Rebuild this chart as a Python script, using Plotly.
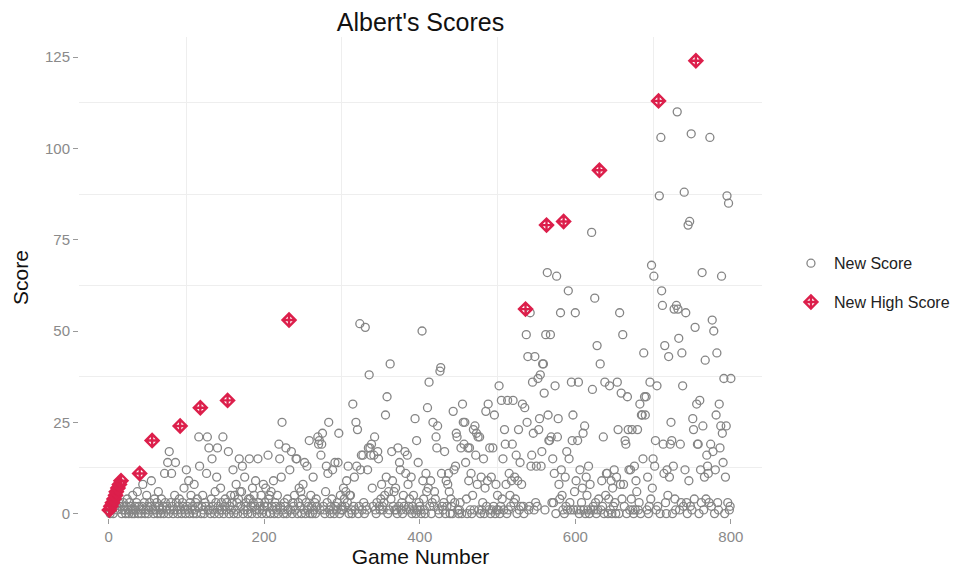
import plotly.graph_objects as go

# Score of each game, games 1..800
scores = [
    1, 0, 2, 1, 3, 0, 4, 2, 5, 6,
    1, 7, 3, 8, 2, 9, 0, 1, 3, 2,
    1, 0, 2, 4, 1, 0, 3, 1, 2, 0,
    5, 1, 0, 2, 1, 3, 6, 0, 2, 11,
    1, 0, 2, 8, 1, 3, 0, 1, 5, 2,
    0, 1, 3, 2, 9, 20, 1, 0, 4, 2,
    1, 3, 0, 6, 2, 1, 0, 4, 1, 2,
    0, 11, 3, 1, 2, 14, 0, 17, 1, 3,
    11, 2, 0, 1, 5, 14, 3, 1, 0, 2,
    4, 24, 1, 0, 3, 2, 7, 1, 0, 12,
    2, 1, 9, 0, 3, 5, 1, 2, 0, 8,
    1, 3, 0, 4, 2, 21, 13, 29, 0, 2,
    5, 1, 0, 3, 2, 11, 21, 1, 18, 1,
    0, 4, 15, 2, 1, 0, 6, 3, 10, 18,
    2, 0, 1, 7, 3, 1, 21, 0, 2, 4,
    1, 3, 31, 17, 0, 2, 5, 1, 3, 12,
    0, 5, 1, 8, 3, 0, 4, 15, 6, 2,
    6, 13, 0, 1, 10, 2, 3, 1, 0, 4,
    15, 4, 2, 0, 7, 3, 5, 2, 9, 1,
    0, 15, 3, 1, 2, 5, 0, 1, 8, 2,
    3, 7, 0, 2, 16, 4, 5, 0, 6, 2,
    1, 9, 0, 3, 2, 1, 5, 0, 19, 15,
    2, 10, 25, 1, 0, 3, 2, 18, 0, 4,
    1, 53, 12, 1, 17, 0, 3, 2, 5, 1,
    15, 15, 0, 3, 7, 2, 6, 0, 4, 8,
    1, 14, 0, 3, 13, 1, 2, 20, 0, 5,
    2, 0, 10, 1, 3, 0, 4, 2, 21, 19,
    20, 1, 16, 19, 22, 2, 1, 0, 6, 13,
    3, 11, 25, 1, 0, 2, 4, 12, 1, 0,
    14, 2, 1, 3, 14, 22, 0, 5, 1, 2,
    1, 7, 4, 2, 6, 9, 3, 13, 0, 5,
    5, 1, 0, 30, 2, 10, 1, 25, 13, 23,
    0, 2, 52, 12, 16, 1, 16, 3, 0, 51,
    2, 1, 12, 18, 38, 18, 16, 19, 7, 2,
    16, 21, 1, 0, 3, 17, 15, 2, 1, 4,
    8, 2, 1, 3, 5, 27, 10, 32, 0, 6,
    1, 41, 4, 17, 9, 2, 6, 1, 7, 1,
    0, 18, 2, 14, 12, 1, 3, 0, 5, 2,
    17, 11, 1, 16, 8, 2, 4, 1, 10, 0,
    2, 5, 1, 26, 0, 20, 1, 14, 3, 2,
    1, 0, 50, 9, 4, 1, 0, 11, 6, 29,
    7, 36, 2, 9, 0, 3, 25, 2, 6, 4,
    21, 18, 24, 1, 0, 39, 40, 11, 2, 1,
    3, 17, 0, 9, 2, 8, 11, 6, 0, 4,
    2, 0, 28, 12, 3, 13, 22, 21, 1, 0,
    1, 3, 18, 0, 30, 25, 19, 25, 14, 4,
    0, 18, 9, 18, 1, 11, 0, 5, 23, 1,
    24, 16, 22, 8, 21, 1, 21, 0, 10, 1,
    3, 15, 0, 7, 28, 2, 9, 30, 1, 18,
    0, 10, 1, 18, 2, 27, 0, 8, 1, 5,
    1, 35, 0, 2, 31, 4, 15, 1, 23, 19,
    8, 0, 31, 1, 11, 5, 2, 9, 19, 31,
    3, 10, 4, 16, 0, 9, 23, 1, 14, 2,
    8, 30, 2, 0, 29, 56, 49, 25, 43, 1,
    2, 55, 13, 16, 36, 22, 1, 43, 3, 13,
    2, 37, 23, 26, 38, 13, 17, 41, 41, 33,
    1, 49, 79, 66, 27, 20, 20, 49, 21, 3,
    15, 3, 11, 35, 0, 65, 21, 26, 8, 4,
    55, 12, 5, 1, 80, 0, 10, 2, 17, 1,
    61, 15, 3, 1, 36, 20, 27, 1, 6, 55,
    9, 1, 20, 36, 0, 12, 1, 3, 7, 22,
    1, 24, 0, 10, 5, 1, 13, 0, 8, 1,
    77, 34, 2, 1, 59, 3, 0, 46, 1, 4,
    94, 41, 1, 9, 2, 21, 0, 36, 5, 11,
    11, 0, 4, 35, 1, 9, 0, 7, 2, 12,
    3, 0, 10, 36, 23, 0, 55, 8, 33, 4,
    49, 8, 2, 20, 19, 0, 32, 23, 12, 1,
    12, 4, 23, 1, 0, 13, 1, 9, 6, 23,
    1, 3, 30, 0, 27, 27, 15, 44, 32, 27,
    32, 1, 10, 0, 2, 36, 4, 68, 7, 15,
    65, 13, 20, 1, 35, 2, 113, 87, 0, 103,
    61, 57, 19, 11, 46, 3, 0, 12, 5, 43,
    10, 19, 25, 20, 0, 13, 56, 4, 1, 57,
    110, 56, 48, 1, 19, 3, 44, 35, 2, 88,
    12, 55, 3, 0, 79, 9, 80, 2, 104, 1,
    26, 23, 4, 51, 124, 30, 19, 19, 0, 31,
    12, 3, 66, 24, 1, 10, 42, 4, 16, 13,
    11, 3, 103, 19, 2, 53, 17, 50, 0, 12,
    27, 44, 3, 1, 30, 18, 24, 65, 22, 14,
    37, 0, 10, 24, 87, 3, 85, 1, 2, 37,
]
games = list(range(1, len(scores) + 1))

x_ticks = [0, 200, 400, 600, 800]
y_ticks = [0, 25, 50, 75, 100, 125]

# Split into ordinary games and new high scores (strictly above all earlier scores)
grey_x, grey_y, red_x, red_y = [], [], [], []
best = 0
for g, s in zip(games, scores):
    if s > best:
        red_x.append(g)
        red_y.append(s)
        best = s
    else:
        grey_x.append(g)
        grey_y.append(s)

fig = go.Figure()
fig.add_trace(go.Scatter(
    x=grey_x, y=grey_y, mode="markers", name="New Score",
    legendgroup="a",
    marker=dict(symbol="circle-open", size=8, color="#858585",
                line=dict(width=1.3, color="#858585")),
    cliponaxis=False,
))
fig.add_trace(go.Scatter(
    x=red_x, y=red_y, mode="markers", name="New High Score",
    legendgroup="b",
    marker=dict(symbol="diamond-cross-open", size=10, color="#DC1F4B",
                line=dict(width=2.4, color="#DC1F4B")),
    cliponaxis=False,
))

grid = "#EEEEEE"
fig.update_layout(
    width=963, height=567,
    margin=dict(l=71, r=209, t=29, b=57, autoexpand=False),
    paper_bgcolor="white", plot_bgcolor="white",
    font=dict(family="Liberation Sans, Arial, sans-serif", color="#222222"),
    title=dict(text="Albert's Scores", xref="paper", x=0.5, xanchor="center",
               yref="container", y=0.975, yanchor="middle",
               font=dict(size=25, color="#111111")),
    xaxis=dict(
        range=[-38, 840], tickvals=x_ticks, ticktext=[str(v) for v in x_ticks],
        showgrid=False, zeroline=False, showline=False, automargin=False,
        ticks="outside", ticklen=5, tickwidth=1, tickcolor="#9a9a9a",
        tickfont=dict(size=15, color="#8a8a8a"),
        title=dict(text="Game Number", font=dict(size=21, color="#111111"), standoff=2),
        minor=dict(tick0=100, dtick=200, showgrid=True, gridcolor=grid, gridwidth=1, ticks=""),
    ),
    yaxis=dict(
        range=[-1.2, 130.5], tickvals=y_ticks, ticktext=[str(v) for v in y_ticks],
        showgrid=False, zeroline=False, showline=False, automargin=False,
        ticks="outside", ticklen=5, tickwidth=1, tickcolor="#9a9a9a",
        tickfont=dict(size=15, color="#8a8a8a"),
        title=dict(text="Score", font=dict(size=21, color="#111111"), standoff=10),
        minor=dict(tick0=12.5, dtick=25, showgrid=True, gridcolor=grid, gridwidth=1, ticks=""),
    ),
    legend=dict(
        x=1.038, xanchor="left", y=0.489, yanchor="middle",
        font=dict(size=16, color="#222222"), itemwidth=36,
        tracegroupgap=15, bgcolor="rgba(0,0,0,0)",
    ),
)

fig.write_html("out.html")
